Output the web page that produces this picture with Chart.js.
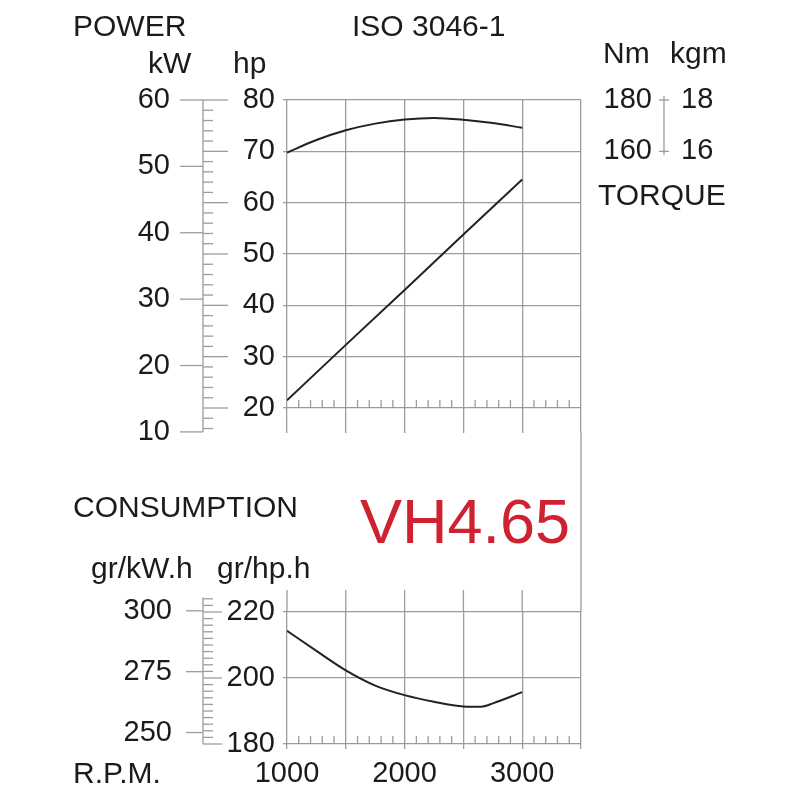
<!DOCTYPE html>
<html>
<head>
<meta charset="utf-8">
<title>VH4.65</title>
<script src="https://cdn.jsdelivr.net/npm/chart.js@4.4.1/dist/chart.umd.min.js"></script>
<style>
  body { margin: 0; background: #fff; }
  #quadro { position: relative; width: 800px; height: 800px; font-family: "Liberation Sans", Arial, sans-serif; color: #1b1b1b; }
  #quadro canvas { position: absolute; left: 0; top: 0; }
  .txt { position: absolute; font-size: 30px; line-height: 1; white-space: nowrap; }
  .vh { color: #cf2231; font-size: 63px; }
</style>
</head>
<body>
<div id="quadro">
  <canvas id="grafico_potencia" width="800" height="800"></canvas>
  <canvas id="grafico_consumo" width="800" height="800"></canvas>
  <div class="txt" style="left:73px;top:11px">POWER</div>
  <div class="txt" style="left:352px;top:11px">ISO 3046-1</div>
  <div class="txt" style="left:148px;top:48px">kW</div>
  <div class="txt" style="left:233px;top:48px">hp</div>
  <div class="txt" style="left:603px;top:38px">Nm</div>
  <div class="txt" style="left:670px;top:38px">kgm</div>
  <div class="txt" style="left:598px;top:180px">TORQUE</div>
  <div class="txt" style="left:73px;top:492px">CONSUMPTION</div>
  <div class="txt vh" style="left:360px;top:490px">VH4.65</div>
  <div class="txt" style="left:91px;top:553px">gr/kW.h</div>
  <div class="txt" style="left:217px;top:553px">gr/hp.h</div>
  <div class="txt" style="left:73px;top:758px">R.P.M.</div>
</div>
<script>
const FONTE = '"Liberation Sans", Arial, sans-serif'
const CINZA = '#9c9c9c'
const PRETO = '#1b1b1b'

// dados
const rpmPotencia = [1000, 1500, 2000, 2500, 3000]
const potenciaHp = [21.5, 32.3, 43.0, 53.8, 64.5]

const rpmTorque = [1000, 1250, 1500, 1750, 2000, 2250, 2500, 2750, 3000]
const torqueNm = [159.5, 164.4, 168.2, 170.8, 172.4, 173.0, 172.3, 171.0, 169.2]

const rpmConsumo = [1000, 1250, 1500, 1750, 2000, 2250, 2500, 2650, 2750, 3000]
const consumoGrHp = [214.3, 208.2, 202.3, 197.7, 194.8, 192.8, 191.4, 191.3, 192.3, 195.7]

// rótulos das réguas
const rotuloRpm = [1000, 2000, 3000]
const ticksKw = [10, 20, 30, 40, 50, 60]
const ticksGrKwh = [250, 275, 300]
const ticksNm = [160, 180]
const ticksKgm = [16, 18]

function pontos(xs, ys) {
    return xs.map((x, i) => ({ x: x, y: ys[i] }))
}

// tamanhos fixos das escalas, para a área do gráfico cair no lugar certo
function larguraFixa(escala) { escala.width = 70 }
function alturaZero(escala) { escala.height = 0 }
function alturaFixa(escala) { escala.height = 50 }

function linha(ctx, x1, y1, x2, y2) {
    ctx.beginPath()
    ctx.moveTo(x1, y1)
    ctx.lineTo(x2, y2)
    ctx.stroke()
}

// tracinhos de 100 em 100 rpm no pé do gráfico
function marcasRpm(chart, ctx) {
    const x = chart.scales.x
    const base = chart.chartArea.bottom
    for (let v = 1100; v < 3500; v += 100) {
        if (v % 500 === 0) continue
        const px = x.getPixelForValue(v)
        linha(ctx, px, base, px, base - 8)
    }
}

const reguaPotencia = {
    id: 'reguaPotencia',
    afterDraw(chart) {
        const ctx = chart.ctx
        const kw = chart.scales.kw, hp = chart.scales.hp, nm = chart.scales.nm
        ctx.save()
        ctx.strokeStyle = CINZA
        ctx.lineWidth = 1.3
        marcasRpm(chart, ctx)

        // régua kW / hp
        const xr = 203
        linha(ctx, xr, kw.getPixelForValue(60), xr, kw.getPixelForValue(10))
        ctx.fillStyle = PRETO
        ctx.font = '29px ' + FONTE
        ctx.textBaseline = 'middle'
        ctx.textAlign = 'right'
        ticksKw.forEach(v => {
            const py = kw.getPixelForValue(v)
            linha(ctx, xr - 23, py, xr, py)
            ctx.fillText(String(v), xr - 33, py)
        })
        for (let v = 16; v <= 80; v += 2) {
            const py = hp.getPixelForValue(v)
            linha(ctx, xr, py, xr + (v % 10 === 0 ? 25 : 10), py)
        }

        // régua do torque
        const xt = 664
        linha(ctx, xt, nm.getPixelForValue(181.5), xt, nm.getPixelForValue(158.5))
        ticksNm.forEach((v, i) => {
            const py = nm.getPixelForValue(v)
            linha(ctx, xt - 5, py, xt + 5, py)
            ctx.textAlign = 'right'
            ctx.fillText(String(v), xt - 12, py)
            ctx.textAlign = 'left'
            ctx.fillText(String(ticksKgm[i]), xt + 17, py)
        })
        ctx.restore()
    }
}

const reguaConsumo = {
    id: 'reguaConsumo',
    afterDraw(chart) {
        const ctx = chart.ctx
        const gk = chart.scales.gk, gh = chart.scales.gh, x = chart.scales.x
        const area = chart.chartArea
        ctx.save()
        ctx.strokeStyle = CINZA
        ctx.lineWidth = 1.3
        marcasRpm(chart, ctx)

        // grade vertical sobe um pouco acima do 220
        for (let v = 1000; v <= 3500; v += 500) {
            const px = x.getPixelForValue(v)
            linha(ctx, px, area.top - 22, px, area.top)
        }
        const pd = x.getPixelForValue(3500)
        linha(ctx, pd, 433, pd, area.top - 22)

        // régua gr/kW.h / gr/hp.h
        const xr = 203
        linha(ctx, xr, gh.getPixelForValue(224.4), xr, gh.getPixelForValue(180))
        ctx.fillStyle = PRETO
        ctx.font = '29px ' + FONTE
        ctx.textBaseline = 'middle'
        ctx.textAlign = 'right'
        ticksGrKwh.forEach(v => {
            const py = gk.getPixelForValue(v)
            linha(ctx, xr - 17, py, xr, py)
            ctx.fillText(String(v), xr - 31, py)
        })
        for (let v = 180; v <= 224; v += 2) {
            const py = gh.getPixelForValue(v)
            linha(ctx, xr, py, xr + (v % 20 === 0 ? 19 : 10), py)
        }
        ctx.restore()
    }
}

const configPotencia = {
    type: 'line',
    data: {
        datasets: [{
            label: 'POWER',
            data: pontos(rpmPotencia, potenciaHp),
            yAxisID: 'hp',
            borderColor: '#222',
            borderWidth: 2,
            pointRadius: 0,
            tension: 0
        }, {
            label: 'TORQUE',
            data: pontos(rpmTorque, torqueNm),
            yAxisID: 'nm',
            borderColor: '#222',
            borderWidth: 2,
            pointRadius: 0,
            cubicInterpolationMode: 'monotone'
        }]
    },
    options: {
        responsive: false,
        animation: false,
        devicePixelRatio: 1,
        layout: { padding: { left: 217, right: 219, top: 100, bottom: 392 } },
        plugins: { legend: { display: false }, tooltip: { enabled: false } },
        scales: {
            x: {
                type: 'linear', min: 1000, max: 3500,
                ticks: { stepSize: 500, display: false },
                grid: { color: CINZA, lineWidth: 1.3, tickLength: 25 },
                border: { display: false },
                afterFit: alturaZero
            },
            hp: {
                type: 'linear', position: 'left', min: 20, max: 80,
                ticks: { stepSize: 10, color: PRETO, font: { family: FONTE, size: 29 }, padding: 8 },
                grid: { color: CINZA, lineWidth: 1.3, tickLength: 4 },
                border: { display: false },
                afterFit: larguraFixa
            },
            kw: { type: 'linear', axis: 'y', position: 'right', display: false, min: 13.6, max: 60 },
            nm: { type: 'linear', axis: 'y', position: 'right', display: false, min: 60, max: 180 }
        }
    },
    plugins: [reguaPotencia]
}

const configConsumo = {
    type: 'line',
    data: {
        datasets: [{
            label: 'CONSUMPTION',
            data: pontos(rpmConsumo, consumoGrHp),
            yAxisID: 'gh',
            borderColor: '#222',
            borderWidth: 2,
            pointRadius: 0,
            cubicInterpolationMode: 'monotone'
        }]
    },
    options: {
        responsive: false,
        animation: false,
        devicePixelRatio: 1,
        layout: { padding: { left: 217, right: 219, top: 612, bottom: 6 } },
        plugins: { legend: { display: false }, tooltip: { enabled: false } },
        scales: {
            x: {
                type: 'linear', min: 1000, max: 3500,
                ticks: {
                    stepSize: 500, autoSkip: false, maxRotation: 0, padding: 8,
                    color: PRETO, font: { family: FONTE, size: 29 },
                    callback: (v) => rotuloRpm.includes(v) ? String(v) : ''
                },
                grid: { color: CINZA, lineWidth: 1.3, tickLength: 5 },
                border: { display: false },
                afterFit: alturaFixa
            },
            gh: {
                type: 'linear', position: 'left', min: 180, max: 220,
                ticks: { stepSize: 20, color: PRETO, font: { family: FONTE, size: 29 }, padding: 8 },
                grid: { color: CINZA, lineWidth: 1.3, tickLength: 4 },
                border: { display: false },
                afterFit: larguraFixa
            },
            gk: { type: 'linear', axis: 'y', position: 'right', display: false, min: 245.3, max: 299.5 }
        }
    },
    plugins: [reguaConsumo]
}

new Chart(document.getElementById('grafico_potencia'), configPotencia)
new Chart(document.getElementById('grafico_consumo'), configConsumo)
</script>
</body>
</html>
